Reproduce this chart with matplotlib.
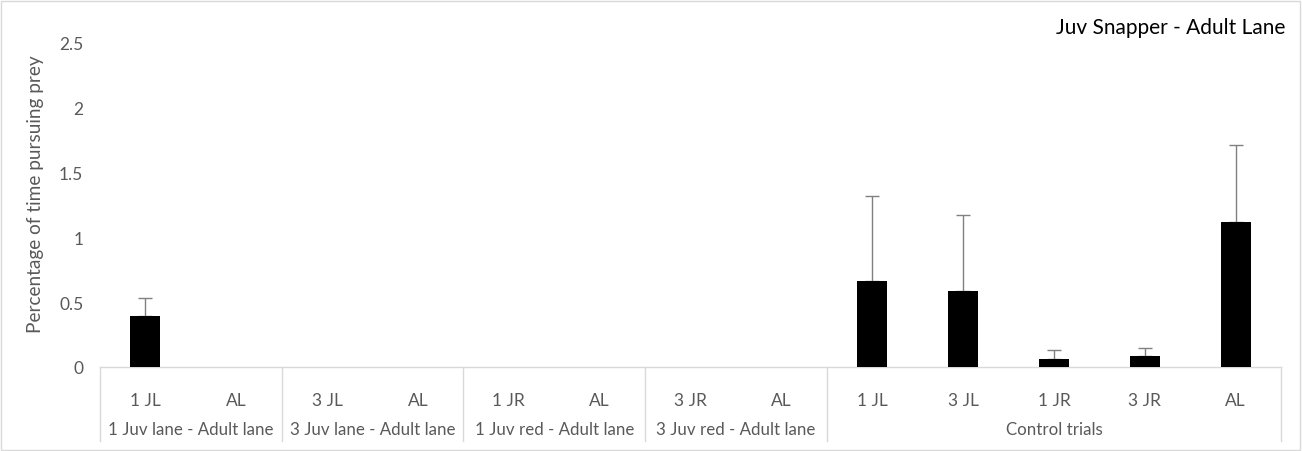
import matplotlib
matplotlib.use("Agg")
import matplotlib.pyplot as plt
from matplotlib.patches import Rectangle
import matplotlib.transforms as mtransforms

categories = ["1 JL", "AL", "3 JL", "AL", "1 JR", "AL", "3 JR", "AL",
              "1 JL", "3 JL", "1 JR", "3 JR", "AL"]
values = [0.39, 0, 0, 0, 0, 0, 0, 0, 0.66, 0.585, 0.063, 0.083, 1.12]
errors = [0.146, 0, 0, 0, 0, 0, 0, 0, 0.66, 0.59, 0.067, 0.06, 0.59]
groups = ["1 Juv lane - Adult lane", "3 Juv lane - Adult lane",
          "1 Juv red - Adult lane", "3 Juv red - Adult lane", "Control trials"]
group_sizes = [2, 2, 2, 2, 5]
title = "Juv Snapper - Adult Lane"
ylabel = "Percentage of time pursuing prey"

plt.rcParams['font.family'] = ['Lato', 'DejaVu Sans']
txt = "#595959"

W, H = 1302, 452
fig = plt.figure(figsize=(W/100, H/100), dpi=100)
ax = fig.add_axes([100/W, (H-368)/H, (1281-100)/W, (368-44)/H])

x = list(range(len(categories)))
ax.bar(x, values, width=0.33, color="black", zorder=3)
err_x = [i for i, e in zip(x, errors) if e > 0]
err_v = [v for v, e in zip(values, errors) if e > 0]
err_e = [e for e in errors if e > 0]
ax.errorbar(err_x, err_v, yerr=[[0]*len(err_e), err_e], fmt="none",
            ecolor="#808080", elinewidth=1, capsize=5, capthick=1, zorder=2)

ax.set_xlim(-0.5, len(categories) - 0.5)
ax.set_ylim(0, 2.5)
ax.set_yticks([0, 0.5, 1, 1.5, 2, 2.5])
ax.set_yticklabels(["0", "0.5", "1", "1.5", "2", "2.5"])
ax.set_xticks(x)
ax.set_xticklabels(categories)
ax.tick_params(axis="both", length=0, labelsize=12.5, colors=txt)
ax.tick_params(axis="x", pad=18)
ax.tick_params(axis="y", pad=12)
for s in ["top", "right", "left"]:
    ax.spines[s].set_visible(False)
ax.spines["bottom"].set_color("#d9d9d9")
ax.spines["bottom"].set_linewidth(1)

ax.set_ylabel(ylabel, fontsize=13.7, color=txt)
ax.yaxis.set_label_coords(-56/1181, (368-194)/324)

trans = mtransforms.blended_transform_factory(ax.transData, ax.transAxes)
axh = 324.0
bounds = [-0.5]
for g in group_sizes:
    bounds.append(bounds[-1] + g)
for b in bounds:
    ax.plot([b, b], [0, -74/axh], transform=trans, color="#d9d9d9",
            lw=1, clip_on=False)
for i, g in enumerate(groups):
    cx = (bounds[i] + bounds[i+1]) / 2
    ax.text(cx, -62/axh, g, transform=trans, ha="center", va="center",
            fontsize=12.2, color=txt)

fig.text(1285/W, 1 - 28/H, title, ha="right", va="center", fontsize=15,
         color="black")

fig.patches.append(Rectangle((1/W, 1/H), (W-3)/W, (H-3)/H, transform=fig.transFigure,
                             fill=False, edgecolor="#d9d9d9", lw=1))

fig.savefig("out.png", dpi=100)
